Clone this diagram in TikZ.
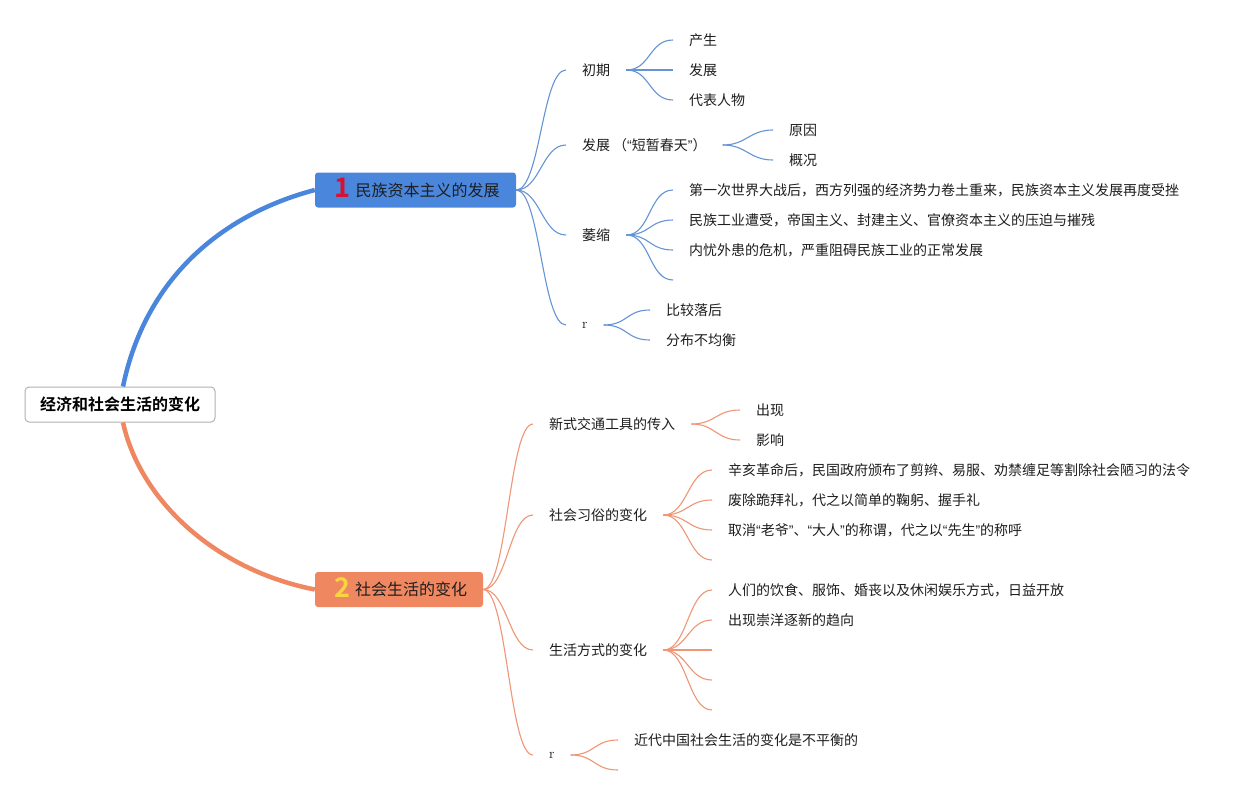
\documentclass[tikz,border=0pt]{standalone}
\usepackage{fontspec}
\newfontfamily\cjk{Noto Sans CJK SC}[BoldFont={Noto Sans CJK SC Bold}]
\newfontfamily\latf{Liberation Sans}
\newcommand\oq{{\latf “}}
\newcommand\cq{{\latf ”}}
\newcommand\numbox[2]{\makebox[22pt][c]{\smash{\raisebox{-1.5pt}{\cjk\bfseries\fontsize{27}{27}\selectfont\color{#1}#2}}}}
\newcommand\brc[3]{\draw[#1] (#2) .. controls +(24,0) and +(-24,0) .. (#3);}
\definecolor{bthick}{RGB}{74,134,220}
\definecolor{bthin}{RGB}{100,148,214}
\definecolor{othick}{RGB}{239,135,96}
\definecolor{othin}{RGB}{238,150,118}
\definecolor{numred}{RGB}{214,18,48}
\definecolor{numyel}{RGB}{248,212,64}
\definecolor{txt}{RGB}{30,30,30}
\begin{document}
\begin{tikzpicture}[x=1pt,y=-1pt,
  lbl/.style={anchor=west, inner xsep=16pt, inner ysep=2pt, text=txt, font=\cjk\fontsize{14}{16}\selectfont},
  rlbl/.style={lbl, font=\rmfamily\fontsize{14}{16}\selectfont},
  rootbox/.style={draw=black!30, line width=1pt, fill=white, rounded corners=4pt, minimum width=190pt, minimum height=35pt, inner sep=0pt, text=black, font=\cjk\bfseries\fontsize{16}{18}\selectfont},
  mainbox/.style={rounded corners=3pt, minimum height=35pt, inner sep=0pt, text=txt, font=\cjk\fontsize{16}{18}\selectfont},
  bthinl/.style={draw=bthin, line width=1.1pt},
  othinl/.style={draw=othin, line width=1.1pt},
  bthickl/.style={draw=bthick, line width=4.5pt},
  othickl/.style={draw=othick, line width=4.5pt},
]
\useasboundingbox[fill=white] (0,0) rectangle (1249,795);

% main nodes
\node[rootbox] (root) at (120,404.5) {经济和社会生活的变化};
\node[mainbox, fill=bthick, minimum width=201pt] (b1) at (415.5,190) {\numbox{numred}{1}\hspace{2pt}民族资本主义的发展};
\node[mainbox, fill=othick, minimum width=168pt] (b2) at (399,589.5) {\numbox{numyel}{2}\hspace{2pt}社会生活的变化};

\draw[bthickl] ([xshift=3pt]root.north) .. controls (145,280) and (220,215) .. (b1.west);
\draw[othickl] ([xshift=3pt]root.south) .. controls (140,500) and (215,570) .. (b2.west);

% blue branch
\node[lbl] (c1) at (566,70) {初期};
\node[lbl] (c2) at (566,145) {发展\hspace{3pt}（\oq 短暂春天\cq）};
\node[lbl] (c3) at (566,235) {萎缩};
\node[rlbl] (c4) at (566,325) {r};
\brc{bthinl}{b1.east}{c1.west}
\brc{bthinl}{b1.east}{c2.west}
\brc{bthinl}{b1.east}{c3.west}
\brc{bthinl}{b1.east}{c4.west}

\node[lbl] (g11) at (673,40) {产生};
\node[lbl] (g12) at (673,70) {发展};
\node[lbl] (g13) at (673,100) {代表人物};
\brc{bthinl}{c1.east}{g11.west}
\brc{bthinl}{c1.east}{g12.west}
\brc{bthinl}{c1.east}{g13.west}

\node[lbl] (g21) at (773,130) {原因};
\node[lbl] (g22) at (773,160) {概况};
\brc{bthinl}{c2.east}{g21.west}
\brc{bthinl}{c2.east}{g22.west}

\node[lbl] (g31) at (673,190) {第一次世界大战后，西方列强的经济势力卷土重来，民族资本主义发展再度受挫};
\node[lbl] (g32) at (673,220) {民族工业遭受，帝国主义、封建主义、官僚资本主义的压迫与摧残};
\node[lbl] (g33) at (673,250) {内忧外患的危机，严重阻碍民族工业的正常发展};
\coordinate (g34) at (673,280);
\brc{bthinl}{c3.east}{g31.west}
\brc{bthinl}{c3.east}{g32.west}
\brc{bthinl}{c3.east}{g33.west}
\brc{bthinl}{c3.east}{g34}

\node[lbl] (g41) at (650,310) {比较落后};
\node[lbl] (g42) at (650,340) {分布不均衡};
\brc{bthinl}{c4.east}{g41.west}
\brc{bthinl}{c4.east}{g42.west}

% orange branch
\node[lbl] (d1) at (533,424) {新式交通工具的传入};
\node[lbl] (d2) at (533,515) {社会习俗的变化};
\node[lbl] (d3) at (533,650) {生活方式的变化};
\node[rlbl] (d4) at (533,755) {r};
\brc{othinl}{b2.east}{d1.west}
\brc{othinl}{b2.east}{d2.west}
\brc{othinl}{b2.east}{d3.west}
\brc{othinl}{b2.east}{d4.west}

\node[lbl] (h11) at (740,410) {出现};
\node[lbl] (h12) at (740,440) {影响};
\brc{othinl}{d1.east}{h11.west}
\brc{othinl}{d1.east}{h12.west}

\node[lbl] (h21) at (712,470) {辛亥革命后，民国政府颁布了剪辫、易服、劝禁缠足等割除社会陋习的法令};
\node[lbl] (h22) at (712,500) {废除跪拜礼，代之以简单的鞠躬、握手礼};
\node[lbl] (h23) at (712,530) {取消\oq 老爷\cq 、\oq 大人\cq 的称谓，代之以\oq 先生\cq 的称呼};
\coordinate (h24) at (712,560);
\brc{othinl}{d2.east}{h21.west}
\brc{othinl}{d2.east}{h22.west}
\brc{othinl}{d2.east}{h23.west}
\brc{othinl}{d2.east}{h24}

\node[lbl] (h31) at (712,590) {人们的饮食、服饰、婚丧以及休闲娱乐方式，日益开放};
\node[lbl] (h32) at (712,620) {出现崇洋逐新的趋向};
\coordinate (h33) at (712,650);
\coordinate (h34) at (712,680);
\coordinate (h35) at (712,710);
\brc{othinl}{d3.east}{h31.west}
\brc{othinl}{d3.east}{h32.west}
\brc{othinl}{d3.east}{h33}
\brc{othinl}{d3.east}{h34}
\brc{othinl}{d3.east}{h35}

\node[lbl] (h41) at (618,740) {近代中国社会生活的变化是不平衡的};
\coordinate (h42) at (618,770);
\brc{othinl}{d4.east}{h41.west}
\brc{othinl}{d4.east}{h42}
\end{tikzpicture}
\end{document}
